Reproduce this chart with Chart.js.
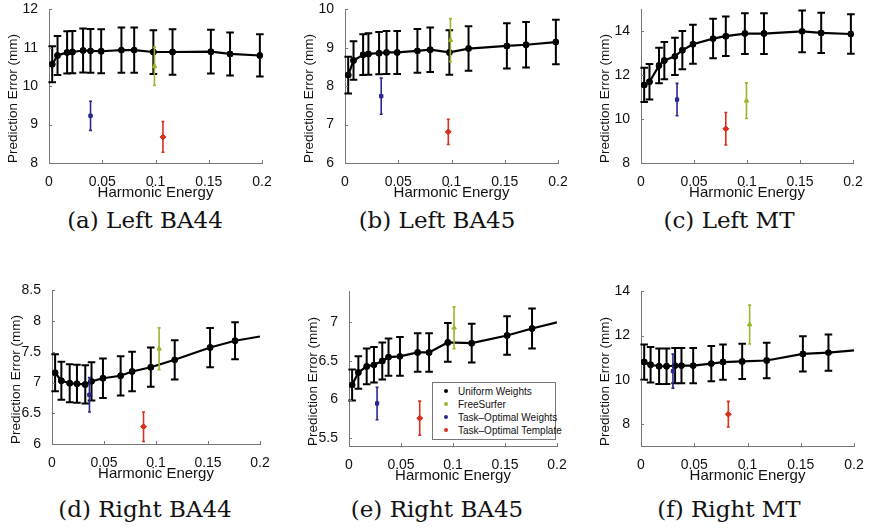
<!DOCTYPE html>
<html>
<head>
<meta charset="utf-8">
<script src="https://cdn.jsdelivr.net/npm/chart.js@4.4.1/dist/chart.umd.min.js"></script>
<style>
    body { margin: 0; width: 870px; height: 529px; background: #fff; position: relative; overflow: hidden; }
    canvas.panel { position: absolute; }
    .caption { position: absolute; width: 290px; text-align: center; font-family: 'DejaVu Serif', serif; font-size: 23px; color: #111; }
    #legend { position: absolute; left: 432px; top: 382px; width: 124px; height: 58px; border: 1px solid #777; background: #fff; font-family: 'Liberation Sans', Arial, sans-serif; font-size: 10px; color: #111; box-sizing: border-box; }
    #legend div { position: absolute; left: 25px; white-space: nowrap; }
    #legend span { position: absolute; left: -14px; top: 3px; width: 4px; height: 4px; border-radius: 2px; }
</style>
</head>
<body>
<div id="legend"></div>
<script>
// harmonic energy values along each row
const energyTop = [0.003, 0.008, 0.017, 0.022, 0.032, 0.039, 0.049, 0.068, 0.080, 0.098, 0.116, 0.152, 0.170, 0.198];
const energyBottom = [0.003, 0.009, 0.017, 0.024, 0.032, 0.038, 0.049, 0.066, 0.077, 0.095, 0.118, 0.152, 0.176, 0.2];

// uniform weights: mean prediction error and error bar half-width
const uniformA = [10.57, 10.80, 10.88, 10.89, 10.93, 10.92, 10.91, 10.94, 10.94, 10.89, 10.89, 10.90, 10.84, 10.80];
const uniformErrA = [0.47, 0.51, 0.55, 0.55, 0.57, 0.57, 0.57, 0.59, 0.59, 0.57, 0.59, 0.57, 0.56, 0.55];
const uniformB = [8.29, 8.67, 8.82, 8.84, 8.86, 8.88, 8.88, 8.92, 8.95, 8.88, 8.98, 9.05, 9.08, 9.15];
const uniformErrB = [0.48, 0.50, 0.53, 0.54, 0.55, 0.56, 0.56, 0.57, 0.58, 0.58, 0.58, 0.59, 0.59, 0.58];
const uniformC = [11.56, 11.70, 12.44, 12.67, 12.86, 13.14, 13.41, 13.67, 13.78, 13.90, 13.90, 14.00, 13.93, 13.88];
const uniformErrC = [0.78, 0.81, 0.81, 0.85, 0.85, 0.87, 0.89, 0.90, 0.90, 0.93, 0.93, 0.95, 0.92, 0.90];
const uniformD = [7.16, 7.03, 6.99, 6.98, 6.97, 7.02, 7.07, 7.11, 7.18, 7.25, 7.37, 7.57, 7.68, 7.75];
const uniformErrD = [0.30, 0.31, 0.31, 0.31, 0.31, 0.31, 0.32, 0.32, 0.32, 0.32, 0.32, 0.32, 0.30, 0];
const uniformE = [6.19, 6.35, 6.43, 6.45, 6.50, 6.55, 6.56, 6.61, 6.61, 6.74, 6.73, 6.83, 6.92, 7.00];
const uniformErrE = [0.20, 0.21, 0.23, 0.23, 0.24, 0.24, 0.25, 0.25, 0.25, 0.25, 0.25, 0.25, 0.26, 0];
const uniformF = [10.80, 10.68, 10.61, 10.61, 10.64, 10.64, 10.64, 10.73, 10.80, 10.83, 10.87, 11.17, 11.23, 11.33];
const uniformErrF = [0.80, 0.80, 0.80, 0.80, 0.80, 0.80, 0.80, 0.80, 0.80, 0.80, 0.80, 0.80, 0.82, 0];

// single-point methods, one entry per panel (a..f)
const freeSurferX = [0.099, 0.099, 0.0995, 0.103, 0.101, 0.102];
const freeSurferY = [10.52, 9.20, 10.84, 7.55, 6.93, 12.50];
const freeSurferErr = [0.50, 0.56, 0.81, 0.34, 0.27, 0.88];
const weightsX = [0.039, 0.034, 0.034, 0.036, 0.027, 0.030];
const weightsY = [9.23, 7.74, 10.89, 6.80, 5.95, 10.39];
const weightsErr = [0.38, 0.47, 0.74, 0.28, 0.21, 0.77];
const templateX = [0.107, 0.097, 0.080, 0.088, 0.068, 0.082];
const templateY = [8.68, 6.81, 9.56, 6.28, 5.76, 8.44];
const templateErr = [0.40, 0.33, 0.74, 0.24, 0.22, 0.58];

const yMin = [8, 6, 8, 6, 5.4, 7];
const yMax = [12, 10, 15, 8.5, 7.4, 14];
const yTicks = [[8, 9, 10, 11, 12], [6, 7, 8, 9, 10], [8, 10, 12, 14], [6, 6.5, 7, 7.5, 8, 8.5], [5.5, 6, 6.5, 7], [8, 10, 12, 14]];
const xTicks = [0, 0.05, 0.1, 0.15, 0.2];
const captions = ['(a) Left BA44', '(b) Left BA45', '(c) Left MT', '(d) Right BA44', '(e) Right BA45', '(f) Right MT'];

const legendNames = ['Uniform Weights', 'FreeSurfer', 'Task\u2013Optimal Weights', 'Task\u2013Optimal Template'];
const colors = ['#000000', '#9ab82e', '#2a2a8c', '#d8321e'];

const uniform = [uniformA, uniformB, uniformC, uniformD, uniformE, uniformF];
const uniformErr = [uniformErrA, uniformErrB, uniformErrC, uniformErrD, uniformErrE, uniformErrF];

// axis corners of each panel: [left, right, top, bottom]
const boxes = [
    [49, 262, 6, 163], [345, 558, 6, 163], [641, 853, 6, 163],
    [52, 260, 287, 444], [349, 557, 288, 446], [641, 854, 288, 446],
];
const PAD_L = 49, PAD_R = 14, PAD_T = 8, AXIS_H = 40;

const font = 'Liberation Sans, Arial, sans-serif';

const errorBars = {
    id: 'errorBars',
    afterDatasetsDraw(chart) {
        const { ctx, scales: { x, y } } = chart;
        ctx.save();
        chart.data.datasets.forEach((ds, di) => {
            const meta = chart.getDatasetMeta(di);
            ds.data.forEach((pt, i) => {
                if (!pt.e) return;
                const px = x.getPixelForValue(pt.x);
                const top = y.getPixelForValue(pt.y + pt.e);
                const bot = y.getPixelForValue(pt.y - pt.e);
                ctx.strokeStyle = ds.borderColor;
                ctx.lineWidth = ds.barWidth;
                ctx.beginPath();
                ctx.moveTo(px, top);
                ctx.lineTo(px, bot);
                ctx.moveTo(px - ds.cap, top);
                ctx.lineTo(px + ds.cap, top);
                ctx.moveTo(px - ds.cap, bot);
                ctx.lineTo(px + ds.cap, bot);
                ctx.stroke();
            });
            meta.data.forEach((el) => el.draw(ctx));
        });
        // small inward tick marks
        ctx.strokeStyle = '#777';
        ctx.lineWidth = 1;
        ctx.beginPath();
        x.ticks.forEach((t) => {
            const px = Math.round(x.getPixelForValue(t.value)) + 0.5;
            ctx.moveTo(px, y.bottom);
            ctx.lineTo(px, y.bottom - 3);
        });
        y.ticks.forEach((t) => {
            const py = Math.round(y.getPixelForValue(t.value)) + 0.5;
            ctx.moveTo(x.left, py);
            ctx.lineTo(x.left + 3, py);
        });
        ctx.stroke();
        ctx.restore();
    },
};

function pointsOf(xs, ys, es) {
    return xs.map((v, i) => ({ x: v, y: ys[i], e: es[i] }));
}

boxes.forEach((box, p) => {
    const [l, r, t, b] = box;
    const canvas = document.createElement('canvas');
    canvas.className = 'panel';
    const w = r - l + PAD_L + PAD_R;
    const h = b - t + PAD_T + AXIS_H;
    canvas.width = w;
    canvas.height = h;
    canvas.style.left = l - PAD_L + 'px';
    canvas.style.top = t - PAD_T + 'px';
    canvas.style.width = w + 'px';
    canvas.style.height = h + 'px';
    document.body.append(canvas);

    const energy = p < 3 ? energyTop : energyBottom;
    const single = (xs, ys, es, c, style, radius) => ({
        data: [{ x: xs[p], y: ys[p], e: es[p] }],
        showLine: false,
        borderColor: c,
        backgroundColor: c,
        pointStyle: style,
        pointRadius: radius,
        barWidth: 1.6,
        cap: 1.5,
    });

    new Chart(canvas, {
        type: 'scatter',
        data: {
            datasets: [
                {
                    data: pointsOf(energy, uniform[p], uniformErr[p]),
                    showLine: true,
                    borderColor: '#000',
                    backgroundColor: '#000',
                    borderWidth: 2.2,
                    pointRadius: uniformErr[p].map((e) => (e ? 2.1 : 0)),
                    barWidth: 2,
                    cap: 3.8,
                },
                single(freeSurferX, freeSurferY, freeSurferErr, colors[1], 'triangle', 2.4),
                single(weightsX, weightsY, weightsErr, colors[2], 'rect', 2.2),
                single(templateX, templateY, templateErr, colors[3], 'rectRot', 2.8),
            ],
        },
        options: {
            responsive: false,
            animation: false,
            events: [],
            layout: { padding: { left: 0, right: PAD_R, top: PAD_T, bottom: 0 } },
            scales: {
                x: {
                    type: 'linear',
                    min: 0,
                    max: 0.2,
                    afterBuildTicks: (scale) => { scale.ticks = xTicks.map((v) => ({ value: v })); },
                    afterFit: (scale) => { scale.height = AXIS_H; },
                    grid: { display: false },
                    border: { color: '#777', width: 1 },
                    ticks: { color: '#111', padding: 3, maxRotation: 0, font: { family: font, size: 14 }, callback: (v) => String(v) },
                    title: { display: true, text: 'Harmonic Energy', color: '#111', padding: { top: 0, bottom: 1 }, font: { family: font, size: 15 } },
                },
                y: {
                    type: 'linear',
                    min: yMin[p],
                    max: yMax[p],
                    afterBuildTicks: (scale) => { scale.ticks = yTicks[p].map((v) => ({ value: v })); },
                    afterFit: (scale) => { scale.width = PAD_L; },
                    grid: { display: false },
                    border: { color: '#777', width: 1 },
                    ticks: { color: '#111', padding: 3, font: { family: font, size: 14 }, callback: (v) => String(v) },
                    title: { display: true, text: 'Prediction Error (mm)', align: 'start', color: '#111', padding: { top: 5, bottom: 0 }, font: { family: font, size: 13.5 } },
                },
            },
            plugins: { legend: { display: false }, tooltip: { enabled: false } },
        },
        plugins: [errorBars],
    });

    const cap = document.createElement('div');
    cap.className = 'caption';
    cap.textContent = captions[p];
    cap.style.left = (p % 3) * 292 + 'px';
    cap.style.top = (p < 3 ? 207 : 496) + 'px';
    document.body.append(cap);
});

// legend for panel (e)
const legend = document.getElementById('legend');
legendNames.forEach((name, i) => {
    const row = document.createElement('div');
    row.style.top = 3 + i * 13 + 'px';
    row.textContent = name;
    const dot = document.createElement('span');
    dot.style.background = colors[i];
    row.prepend(dot);
    legend.append(row);
});
</script>
</body>
</html>
